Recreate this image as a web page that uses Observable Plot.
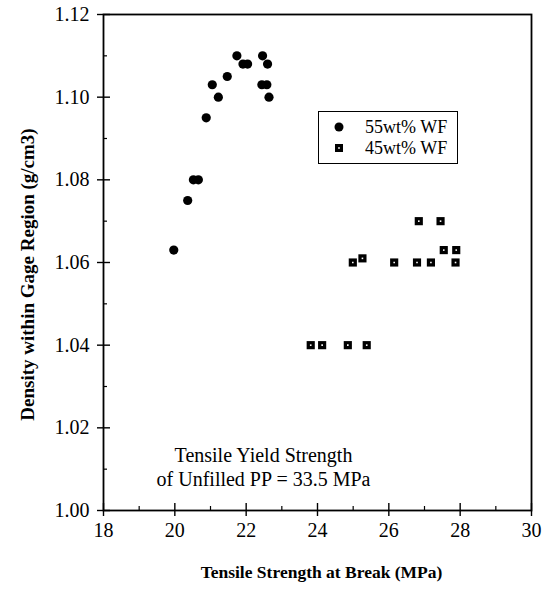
<!DOCTYPE html>
<html>
<head>
<meta charset="utf-8">
<script src="https://cdn.jsdelivr.net/npm/d3@7"></script>
<script src="https://cdn.jsdelivr.net/npm/@observablehq/plot@0.6"></script>
<style>
  html, body { margin: 0; padding: 0; background: #fff; }
  #wrap { position: relative; width: 544px; height: 590px; font-family: "Liberation Serif", "Times New Roman", serif; }
  #legend { position: absolute; left: 318px; top: 111px; width: 140px; height: 53px; border: 1.6px solid #000; box-sizing: border-box; background: #fff; font-size: 18px; color: #000; }
  #legend .row { position: absolute; left: 0; height: 20px; line-height: 20px; white-space: nowrap; }
  #legend svg { position: absolute; left: 15px; top: 5px; }
  #legend span { position: absolute; left: 46px; top: 0; }
</style>
</head>
<body>
<div id="wrap">
  <div id="chart"></div>
  <div id="legend"></div>
</div>
<script>
// ---- data ----
const series = ["55wt% WF", "45wt% WF"];
const x55 = [19.97, 20.36, 20.52, 20.66, 20.88, 21.05, 21.22, 21.47, 21.74, 21.91, 22.04, 22.46, 22.44, 22.58, 22.60, 22.64];
const y55 = [1.063, 1.075, 1.080, 1.080, 1.095, 1.103, 1.100, 1.105, 1.110, 1.108, 1.108, 1.110, 1.103, 1.103, 1.108, 1.100];
const x45 = [23.81, 24.13, 24.85, 25.38, 24.99, 25.26, 26.15, 26.79, 27.18, 27.87, 26.84, 27.45, 27.54, 27.89];
const y45 = [1.040, 1.040, 1.040, 1.040, 1.060, 1.061, 1.060, 1.060, 1.060, 1.060, 1.070, 1.070, 1.063, 1.063];
const xTicks = [18, 20, 22, 24, 26, 28, 30];
const xMinor = [19, 21, 23, 25, 27, 29];
const yTicks = [1.00, 1.02, 1.04, 1.06, 1.08, 1.10, 1.12];
const yMinor = [1.01, 1.03, 1.05, 1.07, 1.09, 1.11];
const xTitle = "Tensile Strength at Break (MPa)";
const yTitle = "Density within Gage Region (g/cm3)";
const note = "Tensile Yield Strength\nof Unfilled PP = 33.5 MPa";

const d55 = x55.map((x, i) => ({x, y: y55[i]}));
const d45 = x45.map((x, i) => ({x, y: y45[i]}));

const font = "Liberation Serif";
const chart = Plot.plot({
  width: 544,
  height: 590,
  marginLeft: 103,
  marginRight: 13,
  marginTop: 14,
  marginBottom: 80,
  style: {fontFamily: font, fontSize: "20px", color: "#000", background: "#fff"},
  x: {domain: [18, 30]},
  y: {domain: [1.00, 1.12]},
  marks: [
    Plot.frame({stroke: "#000", strokeWidth: 1.8}),
    Plot.axisX({ticks: xTicks, tickSize: 6, tickPadding: 6, tickFormat: d3.format("d"), label: null, fontSize: 20, strokeWidth: 1.4}),
    Plot.axisX({ticks: xTicks, tickSize: -7, tickFormat: () => "", label: null, strokeWidth: 1.4}),
    Plot.axisX({ticks: xMinor, tickSize: -4, tickFormat: () => "", label: null, strokeWidth: 1.2}),
    Plot.axisY({ticks: yTicks, tickSize: 6, tickPadding: 8, tickFormat: d3.format(".2f"), label: null, fontSize: 20, strokeWidth: 1.4}),
    Plot.axisY({ticks: yTicks, tickSize: -7, tickFormat: () => "", label: null, strokeWidth: 1.4}),
    Plot.axisY({ticks: yMinor, tickSize: -4, tickFormat: () => "", label: null, strokeWidth: 1.2}),
    Plot.dot(d55, {x: "x", y: "y", r: 4.6, fill: "#000", stroke: "none"}),
    Plot.dot(d45, {x: "x", y: "y", r: 4.6, symbol: "square", fill: "#000", stroke: "none"}),
    Plot.dot(d45, {x: "x", y: "y", r: 0.9, symbol: "square", fill: "#fff", stroke: "none"}),
    Plot.text([note], {frameAnchor: "bottom", dx: -54, dy: -25, lineAnchor: "bottom", lineHeight: 1.2, fontSize: 20, fill: "#000"}),
    Plot.text([xTitle], {frameAnchor: "bottom", dx: 4, dy: 67, fontSize: 17.5, fontWeight: "bold", fill: "#000"}),
    Plot.text([yTitle], {frameAnchor: "left", dx: -76, dy: 12, rotate: -90, textAnchor: "middle", fontSize: 19, fontWeight: "bold", fill: "#000"})
  ]
});
document.getElementById("chart").appendChild(chart);

// legend
const legend = document.getElementById("legend");
series.forEach((s, i) => {
  const row = document.createElement("div");
  row.className = "row";
  row.style.top = (5 + i * 21) + "px";
  row.style.width = "138px";
  const sym = i === 0
    ? '<svg width="10" height="10"><circle cx="5" cy="5" r="4.5" fill="#000"/></svg>'
    : '<svg width="10" height="10"><rect x="1" y="1" width="8" height="8" fill="#000"/><rect x="4.2" y="4.2" width="1.6" height="1.6" fill="#fff"/></svg>';
  row.innerHTML = sym + "<span>" + s + "</span>";
  legend.appendChild(row);
});
</script>
</body>
</html>
